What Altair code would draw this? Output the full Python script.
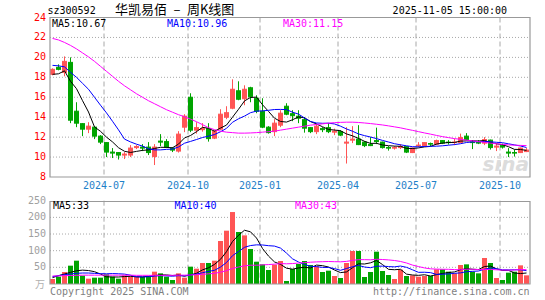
import altair as alt
import pandas as pd

# ---------------- data (weekly candles) ----------------
opens = [18.3, 19.0, 18.5, 19.5, 14.6, 13.35, 12.8, 13.0, 12.1, 11.45,
         10.5, 10.45, 10.2, 10.2, 10.95, 11.0, 11.0, 10.05, 11.6, 11.55,
         10.9, 10.6, 13.0, 16.0, 12.7, 12.75, 12.85, 11.9, 12.8, 14.0,
         14.9, 16.65, 15.85, 16.95, 15.9, 14.6, 13.0, 12.55, 13.2, 15.1,
         14.35, 14.1, 13.75, 12.95, 12.55, 12.85, 12.95, 12.5, 12.55, 11.4,
         11.7, 11.8, 11.5, 11.25, 11.65, 11.5, 10.95, 10.9, 10.95, 11.05,
         10.45, 11.15, 11.15, 11.35, 11.3, 11.65, 11.5, 11.45, 11.45, 12.1,
         11.5, 11.5, 11.4, 11.7, 11.0, 11.15, 10.5, 10.45, 10.45, 10.55]
closes = [18.8, 18.8, 19.6, 13.7, 13.4, 12.8, 13.1, 12.1, 11.5, 10.5,
          10.4, 10.2, 10.3, 10.9, 11.05, 10.9, 10.45, 11.0, 11.5, 11.0,
          10.7, 12.3, 14.1, 12.7, 12.95, 12.85, 11.85, 12.6, 14.3, 14.45,
          16.8, 15.8, 16.8, 16.05, 14.6, 13.0, 12.45, 13.4, 14.4, 14.3,
          14.15, 13.9, 12.9, 12.55, 13.1, 12.75, 12.55, 12.6, 12.2, 11.5,
          11.8, 11.25, 11.15, 11.15, 11.55, 10.95, 10.9, 10.95, 11.05, 10.5,
          10.9, 11.2, 11.45, 11.3, 11.65, 11.4, 11.45, 11.5, 11.95, 11.75,
          11.45, 11.4, 11.75, 10.95, 11.1, 11.0, 10.4, 10.4, 10.9, 10.7]
highs = [18.9, 19.3, 20.1, 20.0, 15.5, 13.4, 13.5, 13.05, 12.2, 11.5,
         10.9, 10.5, 10.5, 11.2, 11.2, 11.3, 11.5, 11.3, 12.3, 11.8,
         11.0, 12.6, 14.3, 16.4, 13.5, 13.4, 13.4, 12.7, 14.8, 15.1,
         17.8, 17.6, 17.2, 17.05, 16.2, 15.9, 13.1, 13.8, 14.7, 15.4,
         14.7, 14.7, 14.0, 13.0, 13.35, 13.0, 13.4, 12.85, 12.7, 13.0,
         13.1, 13.2, 11.6, 12.0, 12.95, 11.55, 11.1, 11.1, 11.3, 11.1,
         10.95, 11.5, 11.5, 11.45, 11.75, 11.7, 11.7, 11.85, 12.35, 12.4,
         11.7, 11.7, 12.0, 11.75, 11.35, 11.35, 10.9, 10.75, 10.95, 10.9]
lows = [18.2, 18.7, 18.1, 13.4, 13.0, 12.1, 12.4, 11.8, 11.3, 10.0,
        9.9, 9.75, 9.8, 10.0, 10.8, 10.6, 10.2, 9.2, 11.1, 10.9,
        10.5, 10.45, 12.5, 12.5, 12.35, 12.55, 11.55, 11.8, 12.7, 13.8,
        14.8, 15.7, 15.2, 15.5, 14.4, 12.9, 12.35, 12.1, 13.0, 14.2,
        13.6, 13.4, 12.45, 12.4, 12.3, 12.5, 12.4, 12.2, 12.1, 9.35,
        11.4, 11.2, 11.0, 11.1, 11.3, 10.85, 10.65, 10.75, 10.8, 10.4,
        10.4, 11.0, 11.05, 11.1, 11.2, 11.3, 11.25, 11.2, 11.4, 11.7,
        10.8, 11.3, 11.2, 10.75, 10.6, 10.85, 10.0, 10.05, 10.4, 10.5]
ma5 = [18.3, 18.35, 18.65, 17.6, 16.86, 15.66, 14.52, 13.02, 12.58, 12.0,
       11.52, 10.94, 10.58, 10.46, 10.57, 10.67, 10.72, 10.86, 10.98, 10.97,
       10.93, 11.3, 11.92, 12.16, 12.55, 12.98, 12.89, 12.59, 12.91, 13.21,
       14.0, 14.79, 15.63, 15.98, 16.01, 15.25, 14.58, 13.9, 13.57, 13.51,
       13.74, 14.03, 13.93, 13.56, 13.32, 13.04, 12.77, 12.71, 12.64, 12.32,
       12.13, 11.87, 11.58, 11.37, 11.38, 11.21, 11.14, 11.1, 11.08, 10.87,
       10.86, 10.92, 11.02, 11.07, 11.3, 11.4, 11.46, 11.47, 11.6, 11.62,
       11.63, 11.61, 11.66, 11.46, 11.33, 11.24, 11.04, 10.77, 10.76, 10.67]
ma10 = [19.2, 19.15, 19.05, 18.5, 18.0, 17.4, 16.8, 16.0, 15.2, 14.43,
        13.59, 12.73, 11.8, 11.52, 11.29, 11.1, 10.83, 10.72, 10.72, 10.77,
        10.8, 11.01, 11.39, 11.57, 11.76, 11.96, 12.1, 12.26, 12.54, 12.88,
        13.49, 13.84, 14.11, 14.45, 14.61, 14.63, 14.69, 14.77, 14.78, 14.76,
        14.5, 14.31, 13.92, 13.57, 13.42, 13.39, 13.4, 13.32, 13.1, 12.82,
        12.59, 12.32, 12.15, 12.01, 11.85, 11.67, 11.51, 11.34, 11.23, 11.13,
        11.04, 11.03, 11.06, 11.08, 11.09, 11.13, 11.19, 11.25, 11.34, 11.46,
        11.52, 11.54, 11.57, 11.53, 11.48, 11.44, 11.33, 11.22, 11.11, 10.96]
ma30 = [21.9, 21.75, 21.5, 21.2, 20.85, 20.45, 20.05, 19.6, 19.1, 18.6,
        18.1, 17.6, 17.15, 16.75, 16.35, 16.0, 15.65, 15.35, 15.05, 14.75,
        14.5, 14.25, 14.05, 13.8, 13.55, 13.25, 12.95, 12.75, 12.6, 12.5,
        12.45, 12.4, 12.4, 12.42, 12.45, 12.5, 12.55, 12.6, 12.7, 12.8,
        12.9, 13.0, 13.1, 13.2, 13.27, 13.33, 13.4, 13.45, 13.48, 13.5,
        13.5, 13.47, 13.42, 13.36, 13.29, 13.22, 13.13, 13.03, 12.93, 12.8,
        12.68, 12.55, 12.42, 12.3, 12.17, 12.05, 11.95, 11.85, 11.78, 11.7,
        11.63, 11.55, 11.48, 11.4, 11.33, 11.27, 11.22, 11.19, 11.17, 11.15]
vol = [15, 22, 36, 55, 70, 25, 16, 19, 19, 29,
       22, 16, 26, 22, 22, 21, 24, 37, 32, 22,
       12, 32, 19, 52, 46, 63, 63, 70, 129, 160,
       216, 156, 146, 105, 67, 59, 42, 58, 69, 9,
       45, 60, 69, 57, 53, 36, 40, 24, 18, 63,
       99, 99, 21, 36, 97, 39, 27, 15, 43, 24,
       26, 22, 24, 24, 44, 44, 37, 32, 57, 59,
       37, 32, 78, 63, 18, 12, 34, 37, 56, 26]
vma5 = [19, 25, 30, 35, 39.6, 41.6, 40.4, 37, 29.8, 21.6,
        21, 21, 22.4, 23, 21.6, 21.4, 23, 25.2, 27.2, 27.2,
        25.4, 27, 23.4, 27.4, 32.2, 42.4, 48.6, 58.8, 74.2, 97,
        127.6, 146.2, 161.4, 156.6, 138, 106.6, 83.8, 66.2, 59, 47.4,
        44.6, 48.2, 50.4, 48, 56.8, 55, 51, 42, 34.2, 36.2,
        48.8, 60.6, 60, 63.6, 70.4, 58.4, 44, 42.8, 44.2, 29.6,
        27, 26, 27.8, 24, 28, 31.6, 34.6, 36.2, 42.8, 45.8,
        44.4, 43.4, 52.6, 53.8, 45.6, 40.6, 41, 32.8, 31.4, 33]
vma10 = [22, 25, 28, 30, 32, 33, 33, 32, 31, 30.6,
         31.3, 30.7, 29.7, 26.4, 21.6, 21.2, 22, 23.8, 25.1, 24.4,
         23.4, 25, 24.3, 27.3, 29.7, 33.9, 37.8, 41.1, 50.8, 64.6,
         85, 97.4, 110.1, 115.4, 117.5, 117.1, 115, 113.8, 107.8, 92.7,
         75.6, 66, 58.3, 53.5, 52.1, 49.8, 49.6, 46.2, 41.1, 46.5,
         51.9, 55.8, 51, 48.9, 53.3, 53.6, 52.3, 51.4, 53.9, 50,
         42.7, 35, 35.3, 34.1, 28.8, 29.3, 30.3, 32, 33.4, 36.9,
         38, 39, 44.4, 48.3, 45.7, 42.5, 42.2, 42.7, 42.6, 40]
vma30 = [24, 24.5, 25, 25.5, 26, 26.5, 26.5, 26.5, 26.5, 26.5,
         26.5, 26.5, 26.5, 26.5, 26, 26, 26, 26, 26, 26,
         26, 26.5, 26.5, 27, 28, 29, 30.5, 32, 35.5, 39.9,
         46.6, 51.0, 54.7, 56.4, 56.3, 57.4, 58.3, 59.6, 61.2, 60.6,
         61.3, 62.8, 64.2, 65.4, 66.4, 66.9, 67.5, 67.0, 66.6, 67.9,
         70.8, 73.1, 73.1, 72.6, 74.3, 73.5, 72.3, 70.5, 67.6, 63.1,
         56.7, 52.3, 48.2, 45.5, 44.7, 44.2, 44.1, 43.2, 42.8, 44.5,
         44.2, 43.3, 43.6, 43.8, 42.6, 41.8, 41.6, 42.1, 43.4, 43]

month_idx = [9, 23, 35, 48, 61, 75]
month_labels = ["2024-07", "2024-10", "2025-01", "2025-04", "2025-07", "2025-10"]
price_ticks = [8, 10, 12, 14, 16, 18, 20, 22, 24]
price_grid = [10, 12, 14, 16, 18, 20, 22]
vol_ticks = [50, 100, 150, 200, 250]
vol_grid = [50, 100, 150, 200]

code_text = "sz300592"
title_text = "华凯易佰\u2002–\u2002周K线图"
time_text = "2025-11-05 15:00:00"
price_ma_labels = ["MA5:10.67", "MA10:10.96", "MA30:11.15"]
vol_ma_labels = ["MA5:33", "MA10:40", "MA30:43"]
unit_text = "万"
copyright_text = "Copyright 2025 SINA.COM"
url_text = "http://finance.sina.com.cn"

# ---------------- styling ----------------
RED = "#FF5555"
GREEN = "#00A400"
MONO = "DejaVu Sans Mono"
GRID = "#A8A8A8"
BORDER = "#999999"
W = 480
PH = 159.5          # price panel bottom (plot px)
VT, VB = 183.2, 266.5   # volume panel top/bottom (plot px)

df = pd.DataFrame({
    "k": list(range(len(closes))), "open": opens, "high": highs, "low": lows,
    "close": closes, "ma5": ma5, "ma10": ma10, "ma30": ma30,
    "vol": vol, "vma5": vma5, "vma10": vma10, "vma30": vma30,
})
df["dir"] = ["up" if c >= o else "down" for o, c in zip(opens, closes)]

xs = alt.Scale(domain=[0, 80], range=[0, W], nice=False, zero=False)
ps = alt.Scale(domain=[8, 24], range=[PH, 0], nice=False, zero=False)
vs = alt.Scale(domain=[0, 250], range=[VB, VT], nice=False, zero=False)


def X(f):
    return alt.X(f, type="quantitative", scale=xs, axis=None)


def PY(f):
    return alt.Y(f, type="quantitative", scale=ps, axis=None)


def VY(f):
    return alt.Y(f, type="quantitative", scale=vs, axis=None)


COLOR = alt.Color("dir:N", scale=alt.Scale(domain=["up", "down"], range=[RED, GREEN]), legend=None)

base = alt.Chart(df).transform_calculate(
    x0="datum.k", x1="datum.k + 5/6", xc="datum.k + 5/12", z="0"
)

mdf = pd.DataFrame({"m": month_idx, "lab": month_labels})

vgrid_p = alt.Chart(mdf).mark_rule(color=GRID, strokeDash=[5, 3], strokeWidth=1).encode(
    x=X("m"), y=alt.value(0), y2=alt.value(PH))
vgrid_v = alt.Chart(mdf).mark_rule(color=GRID, strokeDash=[5, 3], strokeWidth=1).encode(
    x=X("m"), y=alt.value(VT), y2=alt.value(VB))
hgrid_p = alt.Chart(pd.DataFrame({"p": price_grid})).mark_rule(
    color=GRID, strokeDash=[1, 2], strokeWidth=1).encode(
    y=PY("p"), x=alt.value(0), x2=alt.value(W))
hgrid_v = alt.Chart(pd.DataFrame({"v": vol_grid})).mark_rule(
    color=GRID, strokeDash=[1, 2], strokeWidth=1).encode(
    y=VY("v"), x=alt.value(0), x2=alt.value(W))

vol_bars = base.mark_rect().encode(
    x=X("x0:Q"), x2=alt.X2("x1:Q"), y=VY("vol"), y2=alt.Y2("z:Q"), color=COLOR)


def line(f, color, yfun):
    return base.mark_line(color=color, strokeWidth=1).encode(x=X("xc:Q"), y=yfun(f))


wicks = base.mark_rule(strokeWidth=1).encode(
    x=X("xc:Q"), y=PY("low"), y2=alt.Y2("high:Q"), color=COLOR)
bodies = base.mark_rect().encode(
    x=X("x0:Q"), x2=alt.X2("x1:Q"), y=PY("open"), y2=alt.Y2("close:Q"), color=COLOR)
close_tick = base.mark_rule(strokeWidth=1).encode(
    x=X("x0:Q"), x2=alt.X2("x1:Q"), y=PY("close"), color=COLOR)
open_tick = base.mark_rule(strokeWidth=1).encode(
    x=X("x0:Q"), x2=alt.X2("x1:Q"), y=PY("open"), color=COLOR)

one = pd.DataFrame({"a": [0]})
box_p = alt.Chart(one).mark_rect(fillOpacity=0, stroke=BORDER, strokeWidth=1.2).encode(
    x=alt.value(0), x2=alt.value(W), y=alt.value(0), y2=alt.value(PH))
box_v = alt.Chart(one).mark_rect(fillOpacity=0, stroke=BORDER, strokeWidth=1.2).encode(
    x=alt.value(0), x2=alt.value(W), y=alt.value(VT + 0.8), y2=alt.value(VB))

ptick_lab = alt.Chart(pd.DataFrame({"p": price_ticks})).mark_text(
    align="right", baseline="middle", color="#FF0000", font=MONO, fontSize=10).encode(
    y=PY("p"), x=alt.value(-4), text="p:Q")
vtick_lab = alt.Chart(pd.DataFrame({"v": vol_ticks})).mark_text(
    align="right", baseline="middle", color="#A0A0A0", font=MONO, fontSize=10).encode(
    y=VY("v"), x=alt.value(-4), text="v:Q")
month_lab = alt.Chart(mdf).mark_text(
    align="center", baseline="middle", color="#1E80C8", font=MONO, fontSize=10).encode(
    x=X("m"), y=alt.value(168.5), text="lab:N")


def label(text, x, y, color, size=10, align="left", font=MONO, **kw):
    return alt.Chart(pd.DataFrame({"t": [text]})).mark_text(
        align=align, baseline="middle", color=color, fontSize=size, font=font, **kw).encode(
        x=alt.value(x), y=alt.value(y), text="t:N")


texts = [
    label(code_text, -2.5, -7, "#000000"),
    label(title_text, 65, -7.5, "#000000", size=13, font="Noto Sans CJK SC"),
    label(time_text, 457, -7, "#000000", align="right"),
    label(price_ma_labels[0], 2, 6, "#000000"),
    label(price_ma_labels[1], 117, 6, "#0000FF"),
    label(price_ma_labels[2], 233, 6, "#FF00FF"),
    label(vol_ma_labels[0], 3, 188.5, "#000000"),
    label(vol_ma_labels[1], 124.5, 188.5, "#0000FF"),
    label(vol_ma_labels[2], 245, 188.5, "#FF00FF"),
    label(unit_text, -5, 267, "#B0B0B0", size=10, align="right", font="Noto Sans CJK SC"),
    label(copyright_text, 0, 274.5, "#7F7F7F"),
    label(url_text, 479.5, 274.5, "#7F7F7F", align="right"),
    label("sina", 479, 147, "#DCDCDC", size=20, align="right", font="DejaVu Sans",
          fontStyle="italic", fontWeight="bold"),
]

chart = alt.layer(
    vgrid_p, vgrid_v, hgrid_p, hgrid_v,
    vol_bars,
    line("vma5", "#000000", VY), line("vma10", "#0000FF", VY), line("vma30", "#FF00FF", VY),
    wicks, bodies, close_tick, open_tick,
    line("ma5", "#000000", PY), line("ma10", "#0000FF", PY), line("ma30", "#FF00FF", PY),
    box_p, box_v,
    ptick_lab, vtick_lab, month_lab,
    *texts,
).resolve_scale(y="independent").properties(
    width=W, height=266.5,
    padding={"left": 50, "top": 17.5, "right": 15, "bottom": 16},
    autosize="none",
    background="white",
).configure_view(stroke=None)

chart.save("out.html", embed_options={"renderer": "svg", "actions": False})
